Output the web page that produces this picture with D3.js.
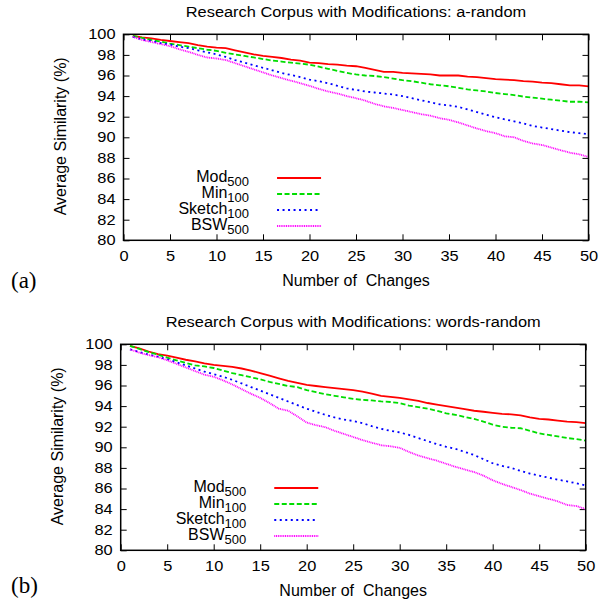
<!DOCTYPE html>
<html>
<head>
<meta charset="utf-8">
<script src="https://cdnjs.cloudflare.com/ajax/libs/d3/7.8.5/d3.min.js"></script>
<style>
  body { margin: 0; background: #fff; }
  text { font-family: "Liberation Sans", Arial, sans-serif; fill: #000; }
</style>
</head>
<body>
<div id="chart"></div>
<script>
// x values (number of changes)
var changes = [1,2,3,4,5,6,7,8,9,10,11,12,13,14,15,16,17,18,19,20,
  21,22,23,24,25,26,27,28,29,30,31,32,33,34,35,36,37,38,39,40,
  41,42,43,44,45,46,47,48,49,50];

var xTicks = [0,5,10,15,20,25,30,35,40,45,50];
var yTicks = [80,82,84,86,88,90,92,94,96,98,100];

var seriesNames = ["Mod", "Min", "Sketch", "BSW"];
var seriesSubs = ["500", "100", "100", "500"];

// panel (a): a-random
var modA = [99.85,99.7,99.6,99.45,99.35,99.25,99.15,98.95,98.8,98.7,98.65,98.45,98.25,98.05,97.9,97.8,97.7,97.55,97.45,97.25,
  97.2,97.1,97.05,96.95,96.9,96.75,96.55,96.35,96.35,96.25,96.2,96.15,96.1,96.0,96.0,96.0,95.9,95.85,95.75,95.65,
  95.6,95.55,95.45,95.4,95.3,95.25,95.15,95.05,95.05,94.95];
var minA = [99.85,99.65,99.45,99.3,99.1,98.95,98.8,98.65,98.5,98.4,98.2,98.05,97.9,97.75,97.6,97.45,97.35,97.25,97.15,97.05,
  96.85,96.65,96.45,96.25,96.1,96.0,95.95,95.85,95.7,95.55,95.45,95.3,95.15,95.05,94.95,94.8,94.65,94.55,94.45,94.3,
  94.2,94.1,93.95,93.85,93.75,93.65,93.55,93.45,93.45,93.4];
var sketchA = [99.75,99.5,99.35,99.15,99.0,98.8,98.65,98.45,98.25,98.05,97.8,97.5,97.25,97.0,96.75,96.5,96.25,96.05,95.85,95.6,
  95.45,95.25,95.0,94.75,94.6,94.45,94.35,94.25,94.15,94.0,93.8,93.6,93.4,93.2,93.1,92.95,92.7,92.45,92.2,91.95,
  91.75,91.55,91.35,91.1,90.95,90.8,90.65,90.5,90.4,90.3];
var bswA = [99.75,99.45,99.25,99.05,98.85,98.55,98.3,98.0,97.75,97.65,97.5,97.2,96.9,96.6,96.3,96.0,95.75,95.5,95.25,95.0,
  94.7,94.45,94.25,94.0,93.8,93.55,93.25,93.0,92.85,92.65,92.45,92.25,92.1,91.85,91.7,91.45,91.15,90.85,90.6,90.4,
  90.1,90.0,89.65,89.4,89.25,89.0,88.75,88.5,88.35,88.1];

// panel (b): words-random
var modB = [99.85,99.6,99.3,99.05,98.9,98.7,98.5,98.35,98.15,98.0,97.9,97.8,97.65,97.45,97.2,96.95,96.7,96.45,96.25,96.05,
  95.95,95.85,95.75,95.65,95.55,95.4,95.2,95.0,94.9,94.8,94.65,94.5,94.3,94.15,94.0,93.85,93.7,93.55,93.45,93.35,
  93.25,93.2,93.1,92.9,92.75,92.7,92.6,92.5,92.45,92.35];
var minB = [99.85,99.55,99.25,99.0,98.7,98.45,98.2,97.95,97.85,97.7,97.45,97.2,97.0,96.8,96.6,96.35,96.15,95.95,95.85,95.55,
  95.35,95.15,95.0,94.85,94.7,94.6,94.55,94.45,94.4,94.3,94.05,93.9,93.75,93.55,93.3,93.15,92.95,92.75,92.5,92.2,
  92.0,91.9,91.85,91.6,91.35,91.2,91.05,90.9,90.8,90.65];
var sketchB = [99.5,99.25,99.0,98.8,98.55,98.25,97.95,97.65,97.35,97.1,96.85,96.55,96.2,95.85,95.5,95.15,94.8,94.45,94.1,93.75,
  93.45,93.15,92.9,92.7,92.55,92.35,92.05,91.8,91.6,91.45,91.2,90.9,90.6,90.3,90.05,89.85,89.55,89.25,88.85,88.45,
  88.2,88.0,87.7,87.45,87.25,87.05,86.85,86.7,86.5,86.3];
var bswB = [99.5,99.2,98.95,98.75,98.45,98.1,97.75,97.4,97.05,96.85,96.5,96.1,95.65,95.2,94.8,94.3,93.75,93.55,93.0,92.4,
  92.15,91.95,91.6,91.3,91.0,90.7,90.45,90.2,90.1,89.95,89.55,89.2,88.95,88.7,88.4,88.1,87.85,87.6,87.25,86.8,
  86.45,86.15,85.85,85.5,85.25,85.0,84.75,84.4,84.3,84.0];

var colors = ["#ff0000", "#00dd00", "#0000ff", "#ff00ff"];
var dashes = [null, "5,2.5", "2,3.5", "1,0.8"];

var svg = d3.select("#chart").append("svg")
  .attr("width", 611)
  .attr("height", 601);

// gnuplot text is a bit wider than Arial, stretch it
function stretch(sel) {
  sel.each(function() {
    var l = this.getComputedTextLength();
    d3.select(this).attr("textLength", l * 1.17).attr("lengthAdjust", "spacingAndGlyphs");
  });
}

function styleAxis(sel) {
  sel.select(".domain").remove();
  sel.selectAll(".tick line").attr("stroke", "#000").attr("stroke-width", 1);
  sel.selectAll(".tick text")
    .style("font-size", "14px")
    .style("font-family", "'Liberation Sans', Arial, sans-serif")
    .call(stretch);
}

function drawPanel(top, left, title, tag, tagY, series) {
  var w = 465, h = 206;
  var g = svg.append("g").attr("transform", "translate(" + left + "," + top + ")");

  var x = d3.scaleLinear().domain([0, 50]).range([0, w]);
  var y = d3.scaleLinear().domain([80, 100]).range([h, 0]);

  // ticks point inward on all four sides
  g.append("g").attr("transform", "translate(0," + h + ")")
    .call(d3.axisBottom(x).tickValues(xTicks).tickSizeInner(-6).tickSizeOuter(0).tickPadding(11))
    .call(styleAxis);
  g.append("g")
    .call(d3.axisTop(x).tickValues(xTicks).tickSizeInner(-6).tickSizeOuter(0).tickFormat(""))
    .call(styleAxis);
  g.append("g")
    .call(d3.axisLeft(y).tickValues(yTicks).tickSizeInner(-6).tickSizeOuter(0).tickPadding(8))
    .call(styleAxis);
  g.append("g").attr("transform", "translate(" + w + ",0)")
    .call(d3.axisRight(y).tickValues(yTicks).tickSizeInner(-6).tickSizeOuter(0).tickFormat(""))
    .call(styleAxis);

  var line = d3.line()
    .x(function(d, i) { return x(changes[i]); })
    .y(function(d) { return y(d); });

  series.forEach(function(s, i) {
    g.append("path")
      .datum(s)
      .attr("d", line)
      .attr("fill", "none")
      .attr("stroke", colors[i])
      .attr("stroke-width", 1.8)
      .attr("stroke-dasharray", dashes[i]);
  });

  // legend
  var leg = g.append("g").attr("transform", "translate(" + x(13.5) + "," + y(86.05) + ")");
  seriesNames.forEach(function(n, i) {
    var row = leg.append("g").attr("transform", "translate(0," + (i * 16) + ")");
    var t = row.append("text")
      .attr("text-anchor", "end")
      .attr("y", 4)
      .style("font-size", "16px");
    t.append("tspan").text(n);
    t.append("tspan").attr("dy", 4.5).style("font-size", "13px").text(seriesSubs[i]);
    row.append("line")
      .attr("x1", 28).attr("x2", 72)
      .attr("stroke", colors[i])
      .attr("stroke-width", 1.8)
      .attr("stroke-dasharray", dashes[i]);
  });

  // frame
  g.append("rect")
    .attr("width", w).attr("height", h)
    .attr("fill", "none")
    .attr("stroke", "#000")
    .attr("stroke-width", 1.5);

  g.append("text")
    .attr("x", w / 2)
    .attr("y", -17.5)
    .attr("text-anchor", "middle")
    .style("font-size", "14px")
    .text(title)
    .call(stretch);

  g.append("text")
    .attr("x", w / 2)
    .attr("y", h + 45.5)
    .attr("text-anchor", "middle")
    .style("font-size", "16px")
    .style("white-space", "pre")
    .text("Number of  Changes");

  g.append("text")
    .attr("transform", "translate(-57.5," + (h / 2 - 1) + ") rotate(-90)")
    .attr("text-anchor", "middle")
    .style("font-size", "16px")
    .text("Average Similarity (%)");

  g.append("text")
    .attr("x", -left + 11)
    .attr("y", h + tagY)
    .style("font-family", "'Liberation Serif', 'DejaVu Serif', serif")
    .style("font-size", "23px")
    .text(tag);
}

drawPanel(34.3, 123.5, "Research Corpus with Modifications: a-random", "(a)", 47.5, [modA, minA, sketchA, bswA]);
drawPanel(344.3, 120.7, "Research Corpus with Modifications: words-random", "(b)", 43, [modB, minB, sketchB, bswB]);
</script>
</body>
</html>
